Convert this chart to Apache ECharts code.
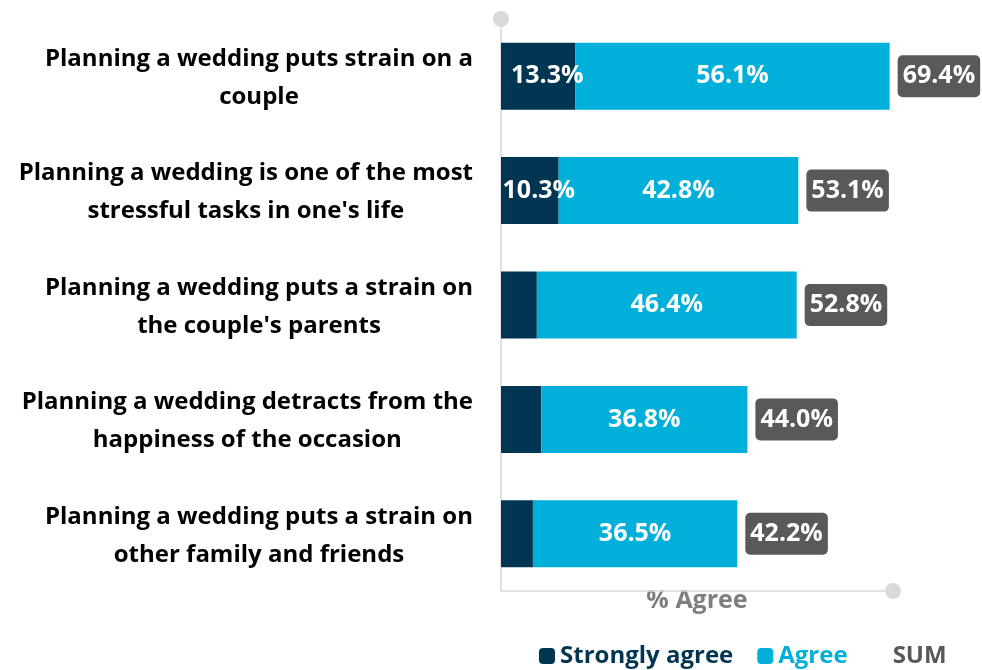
<!DOCTYPE html>
<html><head><meta charset="utf-8">
<script src="https://cdn.jsdelivr.net/npm/echarts@6/dist/echarts.min.js"></script>
<style>html,body{margin:0;padding:0;background:#fff}#c{width:982px;height:670px}</style>
</head><body><div id="c"></div>
<script>
const categories = [
  "Planning a wedding puts strain on a\ncouple",
  "Planning a wedding is one of the most\nstressful tasks in one's life",
  "Planning a wedding puts a strain on\nthe couple's parents",
  "Planning a wedding detracts from the\nhappiness of the occasion",
  "Planning a wedding puts a strain on\nother family and friends"
];
const stronglyAgree = [13.3, 10.3, 6.4, 7.2, 5.7];
const agree = [56.1, 42.8, 46.4, 36.8, 36.5];
const sums = [69.4, 53.1, 52.8, 44.0, 42.2];

const FONT = 'Open Sans';
const chart = echarts.init(document.getElementById('c'));
chart.setOption({
  animation: false,
  textStyle: {fontFamily: FONT},
  grid: {left: 501, right: 89, top: 19, bottom: 79, containLabel: false},
  legend: {
    bottom: -3, left: 534,
    itemWidth: 16, itemHeight: 16, itemGap: 24,
    data: [
      {name: 'Strongly agree', textStyle: {color: '#003652'}},
      {name: 'Agree', textStyle: {color: '#00B0DA'}},
      {name: 'SUM', icon: 'rect', itemStyle: {color: 'rgba(0,0,0,0)'}, textStyle: {color: '#595959'}}
    ],
    textStyle: {fontFamily: FONT, fontWeight: 'bold', fontSize: 24}
  },
  xAxis: {
    type: 'value', min: 0, max: 70,
    name: '% Agree', nameLocation: 'middle', nameGap: -4,
    nameTextStyle: {color: '#7F7F7F', fontWeight: 'bold', fontSize: 25, fontFamily: FONT,
      backgroundColor: '#fff', padding: [0, 10], lineHeight: 28},
    axisLine: {show: true, lineStyle: {color: '#D9D9D9', width: 1.5}, symbol: ['none', 'circle'], symbolSize: [16, 16]},
    axisTick: {show: false}, axisLabel: {show: false}, splitLine: {show: false}
  },
  yAxis: {
    type: 'category', inverse: true, data: categories,
    axisLine: {show: true, lineStyle: {color: '#D9D9D9', width: 1.5}, symbol: ['none', 'circle'], symbolSize: [16, 16]},
    axisTick: {show: false},
    axisLabel: {
      color: '#000', fontWeight: 'bold', fontSize: 24, fontFamily: FONT, lineHeight: 38, margin: 28, align: 'right',
      padding: [4, 0, 0, 0],
      formatter: v => v.split('\n').map(l => '{c|' + l + '}').join('\n'),
      rich: {c: {align: 'center', color: '#000', fontWeight: 'bold', fontSize: 24, fontFamily: FONT, lineHeight: 38}}
    }
  },
  series: [
    {
      name: 'Strongly agree', type: 'bar', stack: 's', barWidth: 67, data: stronglyAgree,
      itemStyle: {color: '#003652'},
      label: {show: true, position: 'inside', offset: [9, 0], color: '#fff', fontWeight: 'bold', fontSize: 25, fontFamily: FONT,
        formatter: p => p.value >= 10 ? p.value.toFixed(1) + '%' : ''}
    },
    {
      name: 'Agree', type: 'bar', stack: 's', barWidth: 67, data: agree,
      itemStyle: {color: '#00B0DA'},
      label: {show: true, position: 'inside', color: '#fff', fontWeight: 'bold', fontSize: 25, fontFamily: FONT,
        formatter: p => p.value.toFixed(1) + '%'}
    },
    {
      name: 'SUM', type: 'bar', stack: 's', barWidth: 67, data: sums.map(() => 0),
      itemStyle: {color: 'rgba(0,0,0,0)'},
      label: {show: true, position: 'right', distance: 8, color: '#fff', fontWeight: 'bold', fontSize: 25, fontFamily: FONT,
        backgroundColor: '#595959', borderRadius: 5, padding: [7, 5, 7, 5], lineHeight: 28,
        formatter: p => sums[p.dataIndex].toFixed(1) + '%'}
    }
  ]
});
</script></body></html>
